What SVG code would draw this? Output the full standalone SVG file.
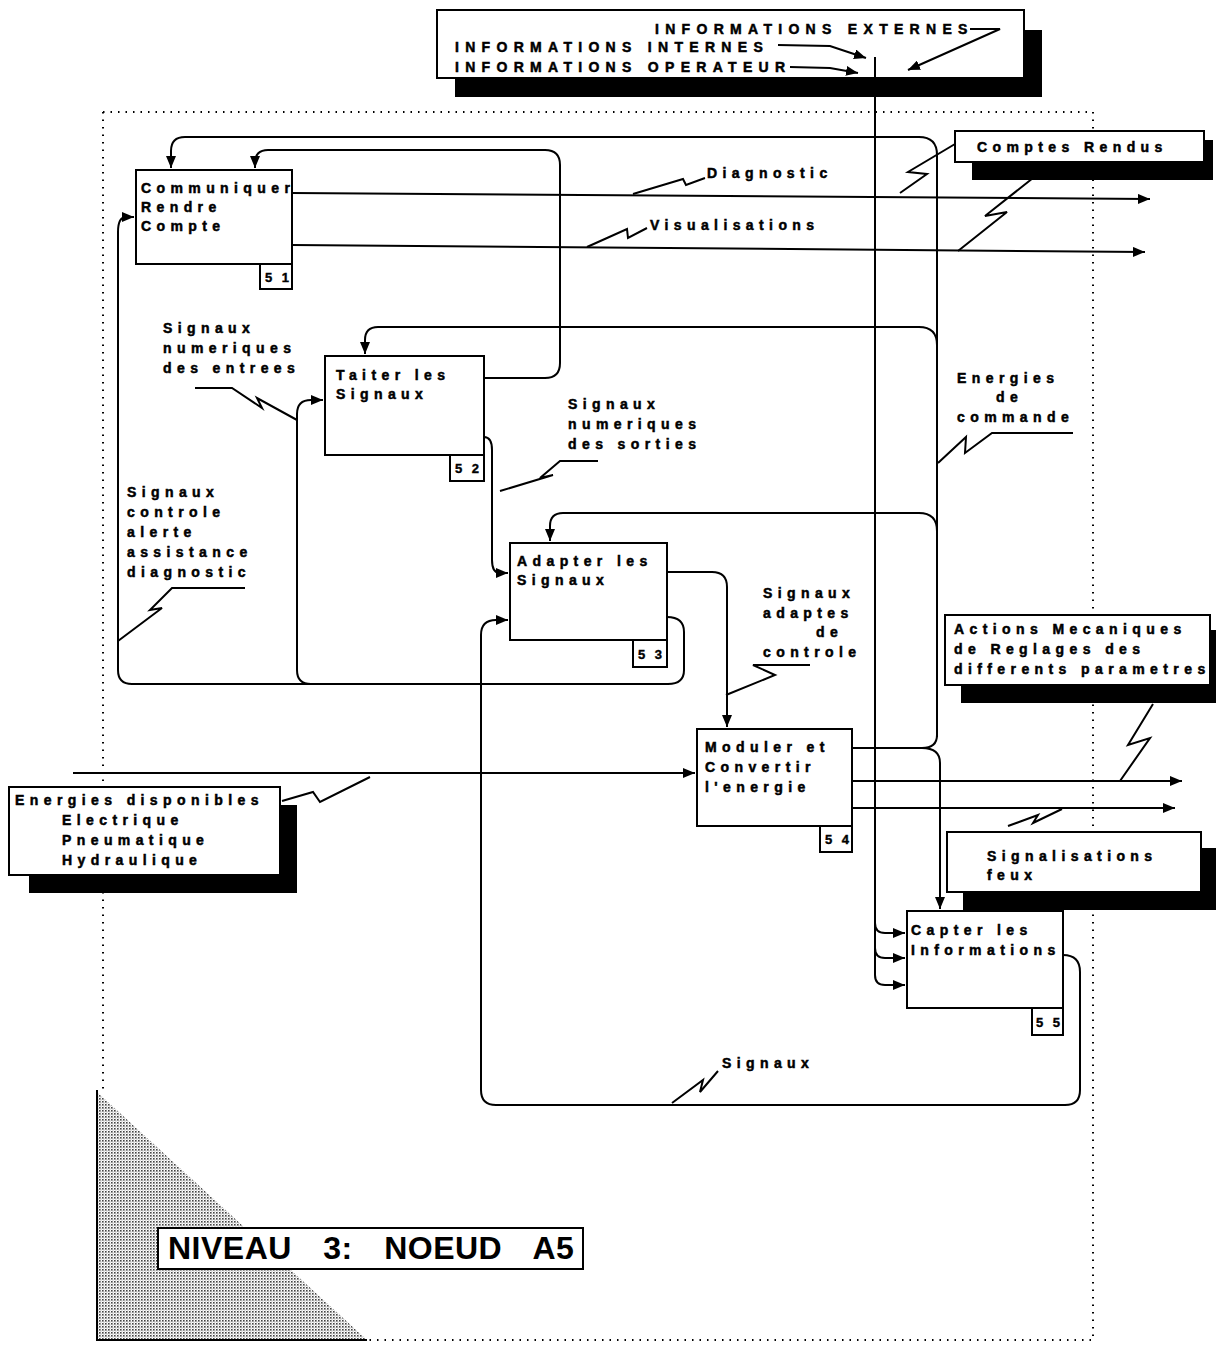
<svg xmlns="http://www.w3.org/2000/svg" width="1222" height="1348" viewBox="0 0 1222 1348">
<style>
.t{font-family:"Liberation Sans",Arial,sans-serif;font-weight:bold;font-size:14px;letter-spacing:5.4px;fill:#000;stroke:#000;stroke-width:0.5}
.tu{font-family:"Liberation Sans",Arial,sans-serif;font-weight:bold;font-size:14px;letter-spacing:6.3px;fill:#000;stroke:#000;stroke-width:0.5}
.tag{font-family:"Liberation Sans",Arial,sans-serif;font-weight:bold;font-size:13px;letter-spacing:3px;fill:#000;stroke:#000;stroke-width:0.4}
.box{fill:#fff;stroke:#000;stroke-width:2}
.sh{fill:#000}
.ln{fill:none;stroke:#000;stroke-width:2}
.co{fill:none;stroke:#000;stroke-width:2;stroke-linejoin:miter}
.dot{fill:none;stroke:#000;stroke-width:2;stroke-dasharray:1.5 6}
</style>
<defs>
<marker id="ah" viewBox="0 0 12 10" refX="12" refY="5" markerWidth="12" markerHeight="10" markerUnits="userSpaceOnUse" orient="auto"><path d="M0,0 L12,5 L0,10 z" fill="#000"/></marker>
<pattern id="stip" width="3" height="3" patternUnits="userSpaceOnUse"><rect width="3" height="3" fill="#fff"/><rect width="1.6" height="1.6" fill="#444"/><rect x="1.5" y="1.5" width="1" height="1" fill="#888"/></pattern>
</defs>

<!-- frame -->
<g id="frame">
<path class="dot" d="M103 112 H1093 V1340 H367"/>
<path class="dot" d="M103 112 V1090"/>
<polygon points="97,1092 97,1340 367,1340" fill="url(#stip)"/>
<path class="ln" d="M97 1090 V1340 H367"/>
</g>

<!-- top info box -->
<g id="info-box">
<rect class="sh" x="455" y="30" width="587" height="67"/>
<rect class="box" x="437" y="10" width="587" height="68"/>
<text class="tu" x="655" y="34">INFORMATIONS EXTERNES</text>
<text class="tu" x="455" y="52">INFORMATIONS INTERNES</text>
<text class="tu" x="455" y="72">INFORMATIONS OPERATEUR</text>
</g>

<!-- nodes -->
<g id="node-51">
<rect class="box" x="136" y="170" width="156" height="94"/>
<rect class="box" x="260" y="264" width="32" height="25"/>
<text class="tag" x="265" y="282">5 1</text>
<text class="t" x="141" y="193">Communiquer</text>
<text class="t" x="141" y="212">Rendre</text>
<text class="t" x="141" y="231">Compte</text>
</g>
<g id="node-52">
<rect class="box" x="325" y="356" width="159" height="99"/>
<rect class="box" x="450" y="455" width="34" height="26"/>
<text class="tag" x="455" y="473">5 2</text>
<text class="t" x="336" y="380">Taiter les</text>
<text class="t" x="336" y="399">Signaux</text>
</g>
<g id="node-53">
<rect class="box" x="510" y="543" width="157" height="97"/>
<rect class="box" x="633" y="640" width="34" height="27"/>
<text class="tag" x="638" y="659">5 3</text>
<text class="t" x="517" y="566">Adapter les</text>
<text class="t" x="517" y="585">Signaux</text>
</g>
<g id="node-54">
<rect class="box" x="697" y="729" width="155" height="97"/>
<rect class="box" x="820" y="826" width="32" height="26"/>
<text class="tag" x="825" y="844">5 4</text>
<text class="t" x="705" y="752">Moduler et</text>
<text class="t" x="705" y="772">Convertir</text>
<text class="t" x="705" y="792">l'energie</text>
</g>
<g id="node-55">
<rect class="box" x="907" y="911" width="156" height="97"/>
<rect class="box" x="1032" y="1008" width="31" height="27"/>
<text class="tag" x="1036" y="1027">5 5</text>
<text class="t" x="911" y="935">Capter les</text>
<text class="t" x="911" y="955">Informations</text>
</g>

<!-- external boxes -->
<g id="comptes-rendus">
<rect class="sh" x="972" y="140" width="241" height="40"/>
<rect class="box" x="955" y="131" width="249" height="31"/>
<text class="t" x="977" y="152">Comptes Rendus</text>
</g>
<g id="actions-mecaniques">
<rect class="sh" x="961" y="630" width="255" height="73"/>
<rect class="box" x="945" y="615" width="265" height="70"/>
<text class="t" x="954" y="634">Actions Mecaniques</text>
<text class="t" x="954" y="654">de Reglages des</text>
<text class="t" x="954" y="674">differents parametres</text>
</g>
<g id="signalisations">
<rect class="sh" x="963" y="848" width="253" height="62"/>
<rect class="box" x="947" y="832" width="254" height="60"/>
<text class="t" x="987" y="861">Signalisations</text>
<text class="t" x="987" y="880">feux</text>
</g>
<g id="energies-disponibles">
<rect class="sh" x="29" y="805" width="268" height="88"/>
<rect class="box" x="9" y="787" width="271" height="88"/>
<text class="t" x="15" y="805">Energies disponibles</text>
<text class="t" x="62" y="825">Electrique</text>
<text class="t" x="62" y="845">Pneumatique</text>
<text class="t" x="62" y="865">Hydraulique</text>
</g>
<g id="niveau">
<rect class="box" x="158" y="1228" width="425" height="41"/>
<text x="168" y="1259" font-family="Liberation Sans, Arial, sans-serif" font-weight="bold" font-size="32" letter-spacing="0.5" word-spacing="22">NIVEAU 3: NOEUD A5</text>
</g>

<!-- free labels -->
<g id="labels">
<text class="t" x="707" y="178">Diagnostic</text>
<text class="t" x="650" y="230">Visualisations</text>
<text class="t" x="163" y="333">Signaux</text>
<text class="t" x="163" y="353">numeriques</text>
<text class="t" x="163" y="373">des entrees</text>
<text class="t" x="568" y="409">Signaux</text>
<text class="t" x="568" y="429">numeriques</text>
<text class="t" x="568" y="449">des sorties</text>
<text class="t" x="127" y="497">Signaux</text>
<text class="t" x="127" y="517">controle</text>
<text class="t" x="127" y="537">alerte</text>
<text class="t" x="127" y="557">assistance</text>
<text class="t" x="127" y="577">diagnostic</text>
<text class="t" x="957" y="383">Energies</text>
<text class="t" x="996" y="402">de</text>
<text class="t" x="957" y="422">commande</text>
<text class="t" x="763" y="598">Signaux</text>
<text class="t" x="763" y="618">adaptes</text>
<text class="t" x="816" y="637">de</text>
<text class="t" x="763" y="657">controle</text>
<text class="t" x="722" y="1068">Signaux</text>
</g>

<!-- connectors -->
<g id="connectors">
<path class="ln" d="M73 773 H695" marker-end="url(#ah)"/>
<path class="ln" d="M292 193 L1150 199" marker-end="url(#ah)"/>
<path class="ln" d="M292 245 L1145 252" marker-end="url(#ah)"/>
<path class="ln" d="M937 737 V155 Q937 137 919 137 H185 Q171 137 171 151 V168" marker-end="url(#ah)"/>
<path class="ln" d="M937 345 Q937 327 919 327 H378 Q365 327 365 340 V354" marker-end="url(#ah)"/>
<path class="ln" d="M937 531 Q937 513 919 513 H563 Q550 513 550 526 V541" marker-end="url(#ah)"/>
<path class="ln" d="M852 748 H922 Q937 748 937 735"/>
<path class="ln" d="M922 748 Q940 748 940 763 V909" marker-end="url(#ah)"/>
<path class="ln" d="M484 378 H545 Q560 378 560 363 V165 Q560 150 545 150 H268 Q255 150 255 163 V168" marker-end="url(#ah)"/>
<path class="ln" d="M484 437 Q492 437 492 450 V560 Q492 573 500 573 H508" marker-end="url(#ah)"/>
<path class="ln" d="M667 572 H712 Q727 572 727 587 V727" marker-end="url(#ah)"/>
<path class="ln" d="M667 617 Q684 617 684 632 V670 Q684 684 668 684 H132 Q118 684 118 670 V232 Q118 217 126 217 H134" marker-end="url(#ah)"/>
<path class="ln" d="M311 684 Q297 684 297 670 V414 Q297 400 311 400 H323" marker-end="url(#ah)"/>
<path class="ln" d="M1063 955 Q1080 955 1080 972 V1090 Q1080 1105 1065 1105 H496 Q481 1105 481 1090 V635 Q481 620 496 620 H508" marker-end="url(#ah)"/>
<path class="ln" d="M875 57 V975 Q875 985 885 985 H905" marker-end="url(#ah)"/>
<path class="ln" d="M875 923 Q875 933 885 933 H905" marker-end="url(#ah)"/>
<path class="ln" d="M875 948 Q875 958 885 958 H905" marker-end="url(#ah)"/>
<path class="ln" d="M852 781 H1182" marker-end="url(#ah)"/>
<path class="ln" d="M852 808 H1175" marker-end="url(#ah)"/>
<path class="ln" d="M778 45 L830 46 L866 58" marker-end="url(#ah)"/>
<path class="ln" d="M790 67 L830 68 L858 73" marker-end="url(#ah)"/>
<path class="ln" d="M970 29 L1000 29 L908 70" marker-end="url(#ah)"/>
<!-- callouts -->
<path class="co" d="M282 801 L313 792 L320 802 L370 777"/>
<path class="co" d="M633 194 L683 179 L686 185 L705 178"/>
<path class="co" d="M587 247 L627 229 L628 238 L647 228"/>
<path class="co" d="M955 144 L908 172 L927 174 L900 193"/>
<path class="co" d="M1033 178 L985 216 L1007 212 L958 251"/>
<path class="co" d="M195 388 L232 388 L262 408 L257 398 L297 420"/>
<path class="co" d="M598 461 L560 461 L540 478 L553 475 L500 491"/>
<path class="co" d="M245 588 L172 588 L150 610 L162 608 L118 641"/>
<path class="co" d="M1073 433 L992 433 L965 453 L966 437 L938 463"/>
<path class="co" d="M810 665 L753 665 L775 675 L726 695"/>
<path class="co" d="M1153 704 L1128 745 L1150 738 L1120 781"/>
<path class="co" d="M1008 826 L1038 815 L1033 823 L1062 809"/>
<path class="co" d="M672 1103 L703 1080 L700 1092 L718 1071"/>
</g>
</svg>
